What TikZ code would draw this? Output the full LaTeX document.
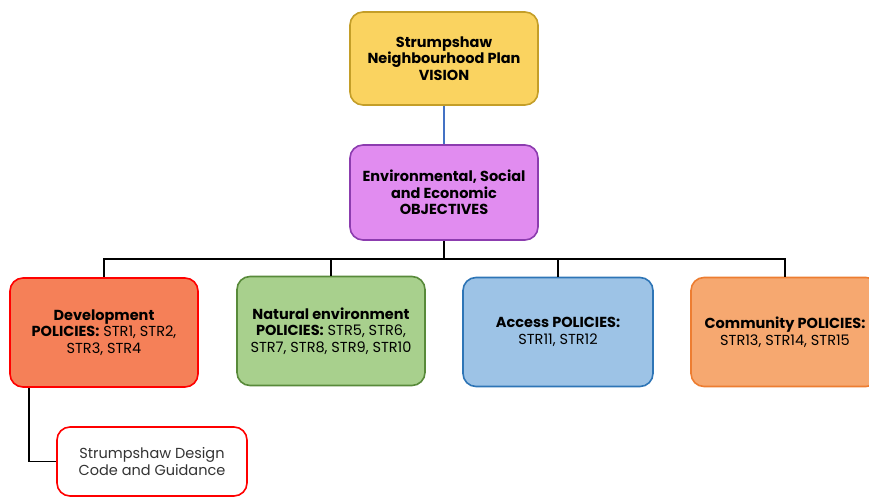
\documentclass[tikz,border=0pt]{standalone}
\usepackage{fontspec}
\setmainfont{Poppins}
\usetikzlibrary{positioning}

\definecolor{visionfill}{RGB}{250,211,96}
\definecolor{visionline}{RGB}{196,158,40}
\definecolor{objfill}{RGB}{225,140,240}
\definecolor{objline}{RGB}{140,60,175}
\definecolor{devfill}{RGB}{245,128,88}
\definecolor{natfill}{RGB}{168,208,141}
\definecolor{natline}{RGB}{88,138,58}
\definecolor{accfill}{RGB}{157,195,230}
\definecolor{accline}{RGB}{46,117,182}
\definecolor{comfill}{RGB}{246,168,112}
\definecolor{comline}{RGB}{237,125,49}
\definecolor{linkblue}{RGB}{68,114,196}

\tikzset{
  box/.style={draw, rounded corners=13pt, line width=1.6pt, align=center,
    minimum width=188pt, inner sep=2pt,
    font=\fontsize{14.5}{16.5}\selectfont},
  policy/.style={box, minimum height=109pt},
  link/.style={line width=1.6pt}
}

\begin{document}
\begin{tikzpicture}[x=1pt,y=-1pt]
        \clip (0,0) rectangle (869,497);
        \fill[white] (0,0) rectangle (869,497);
        % top of the plan
        \node[box, fill=visionfill, draw=visionline, minimum height=93pt] (vision) at (444,58.5)
            {\bfseries Strumpshaw\\\bfseries Neighbourhood Plan\\\bfseries VISION};
        \node[box, fill=objfill, draw=objline, minimum height=95pt] (objectives) at (444,192.5)
            {\bfseries Environmental, Social\\\bfseries and Economic\\\bfseries OBJECTIVES};
        \draw[link, draw=linkblue] (vision) -- (objectives);
        % policy groups
        \node[policy, fill=devfill, draw=red] (dev) at (104,332.5)
            {\textbf{Development}\\\textbf{POLICIES:} STR1, STR2,\\STR3, STR4};
        \node[policy, fill=natfill, draw=natline] (nat) at (331,331)
            {\textbf{Natural environment}\\\textbf{POLICIES:} STR5, STR6,\\STR7, STR8, STR9, STR10};
        \node[policy, fill=accfill, draw=accline, minimum width=190pt] (access) at (558,332)
            {\textbf{Access POLICIES:}\\STR11, STR12};
        \node[policy, fill=comfill, draw=comline] (community) at (785,332)
            {\textbf{Community POLICIES:}\\STR13, STR14, STR15};
        \draw[link] (objectives.south) -- ++(0,18) coordinate (bus);
        \foreach \grp in {dev,nat,access,community}
            \draw[link] (bus) -| (\grp.north);
        % design code below development
        \node[box, fill=white, draw=red, minimum width=190pt, minimum height=69pt, text=black!80, font=\fontsize{14.5}{17}\selectfont] (design) at (152,461.5)
            {Strumpshaw Design\\Code and Guidance};
        \draw[link] ([xshift=20pt]dev.south west) |- (design.west);
    \end{tikzpicture}
\end{document}
